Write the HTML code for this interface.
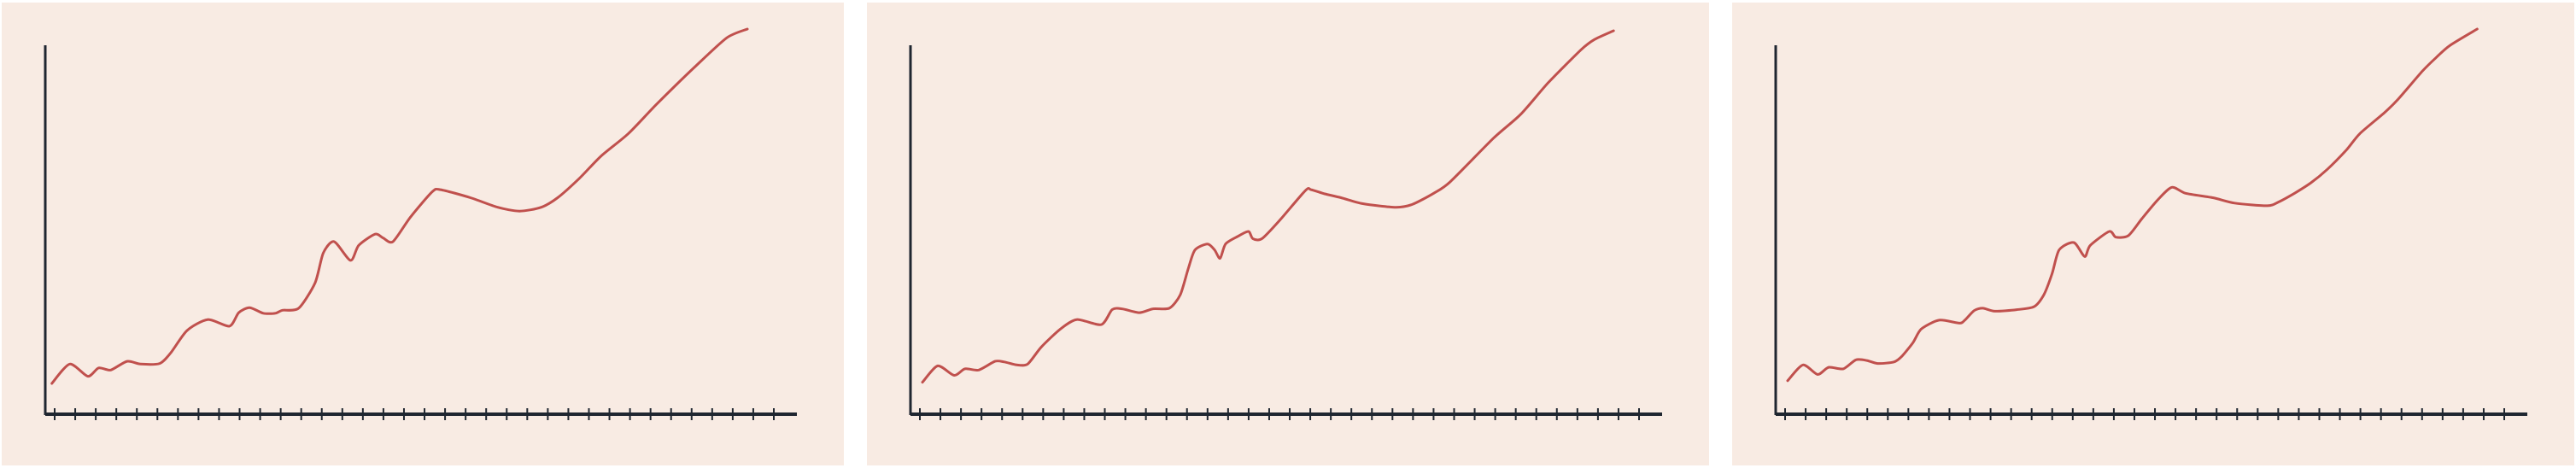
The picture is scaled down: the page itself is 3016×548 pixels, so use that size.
<!DOCTYPE html>
<html><head><meta charset="utf-8"><style>
html,body{margin:0;padding:0;background:#ffffff;}
svg{display:block;}
</style></head><body>
<svg id="chart" width="3016" height="548" xmlns="http://www.w3.org/2000/svg"></svg>
<script>
// Panel 1 data (x index-like units, y value units)
const p1X = [12,45,78,98,120,150,175,210,230,260,298,338,355,375,400,422,435,465,495,510,530,560,575,605,620,638,670,710,725,780,830,870,910,940,980,1020,1070,1120,1190,1250,1288];
const p1Y = [103,168,127,155,148,177,168,170,205,280,317,295,340,357,338,338,348,355,440,540,578,515,565,603,590,578,660,745,752,725,693,680,693,725,790,865,940,1035,1160,1260,1290];
// Panel 2 data
const p2X = [22,50,80,100,125,155,172,195,215,240,275,305,350,370,388,420,445,475,495,510,522,545,558,568,578,600,620,628,645,680,725,735,760,790,830,890,920,960,990,1070,1120,1170,1230,1255,1290];
const p2Y = [107,162,130,152,148,177,175,165,168,225,285,317,300,350,353,340,353,355,400,490,550,570,550,522,570,595,612,588,588,655,750,752,738,725,705,693,702,740,778,925,1005,1110,1220,1255,1284];
// Panel 3 data
const p3X = [22,50,77,97,124,147,167,187,217,232,252,267,300,337,347,364,380,402,442,474,492,507,520,547,567,577,612,624,647,672,702,727,752,802,842,902,922,952,982,1012,1047,1072,1117,1142,1187,1212,1237,1287];
const p3Y = [112,165,133,157,152,182,180,170,175,195,240,285,315,305,315,347,355,345,350,360,400,470,550,575,528,565,612,593,598,655,720,760,740,725,707,698,710,740,775,820,885,940,1010,1055,1150,1195,1235,1290];
const seriesX = [p1X, p2X, p3X];
const seriesY = [p1Y, p2Y, p3Y];
const tickCount = 36;

const NS = 'http://www.w3.org/2000/svg';
const svg = document.getElementById('chart');
const panelLefts = [2, 1015, 2028];
const panelW = 986, panelTop = 3, panelH = 542;
const axisOff = 51, axisTop = 53, axisY = 485, axisEnd = 931, tickStart = 62, tickEnd = 904;

function xScale(left, v){ return left + axisOff + v / 1.567; }
function yScale(v){ return axisY - v / 2.86; }

function mk(tag, attrs){ const e = document.createElementNS(NS, tag); for (const k in attrs) e.setAttribute(k, attrs[k]); return e; }

panelLefts.forEach((left, pi) => {
  const g = mk('g', {});
  
  
  svg.appendChild(g);

  const bg = mk('rect', {x: left, y: panelTop, width: panelW, height: panelH, fill: '#f8ebe3'});
  
  
  g.appendChild(bg);

  const yAxis = mk('line', {x1: left + axisOff, y1: axisTop, x2: left + axisOff, y2: axisY + 1, stroke: '#1f2630', 'stroke-width': 3});
  
  
  g.appendChild(yAxis);

  const xAxis = mk('line', {x1: left + axisOff, y1: axisY, x2: left + axisEnd, y2: axisY, stroke: '#1f2630', 'stroke-width': 4});
  
  
  g.appendChild(xAxis);

  for (let i = 0; i < tickCount; i++) {
    const tx = left + tickStart + (tickEnd - tickStart) * i / (tickCount - 1);
    const t = mk('line', {x1: tx, y1: axisY - 7, x2: tx, y2: axisY + 7, stroke: '#1f2630', 'stroke-width': 2});
    
    
    g.appendChild(t);
  }

  const xs = seriesX[pi], ys = seriesY[pi];
  const pts = xs.map((x, i) => [xScale(left, x), yScale(ys[i])]);
  let d = 'M' + pts[0][0].toFixed(1) + ',' + pts[0][1].toFixed(1);
  for (let i = 0; i < pts.length - 1; i++) {
    const p0 = pts[i - 1] || pts[i], p1 = pts[i], p2 = pts[i + 1], p3 = pts[i + 2] || p2;
    const c1x = p1[0] + (p2[0] - p0[0]) / 8, c1y = p1[1] + (p2[1] - p0[1]) / 8;
    const c2x = p2[0] - (p3[0] - p1[0]) / 8, c2y = p2[1] - (p3[1] - p1[1]) / 8;
    d += ' C' + c1x.toFixed(1) + ',' + c1y.toFixed(1) + ' ' + c2x.toFixed(1) + ',' + c2y.toFixed(1) + ' ' + p2[0].toFixed(1) + ',' + p2[1].toFixed(1);
  }
  const path = mk('path', {d: d, fill: 'none', stroke: '#c0504d', 'stroke-width': 3, 'stroke-linejoin': 'round', 'stroke-linecap': 'round'});
  
  
  g.appendChild(path);
});
</script>
</body></html>
